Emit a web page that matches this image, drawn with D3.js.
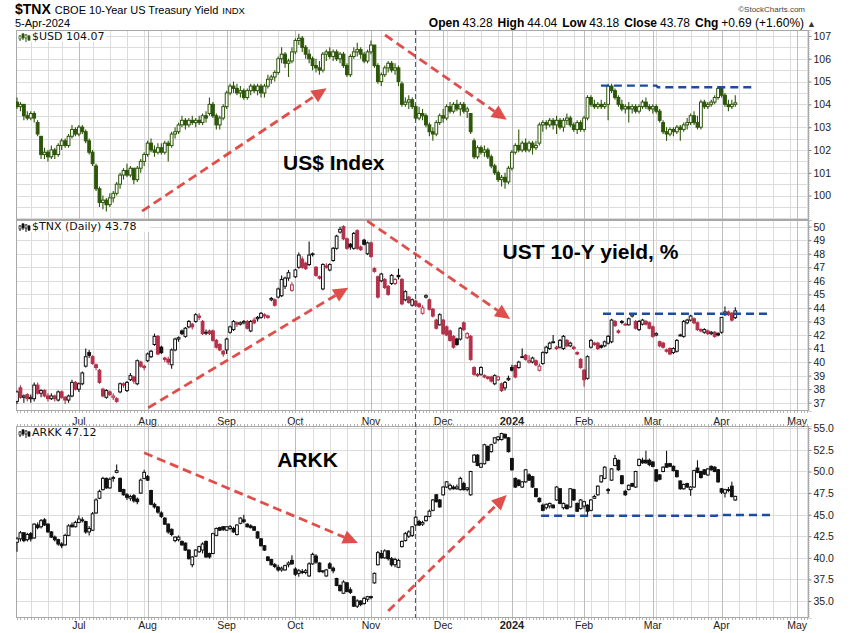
<!DOCTYPE html>
<html><head><meta charset="utf-8">
<script src="https://cdn.jsdelivr.net/npm/d3@7"></script>
<style>body{margin:0;background:#fff}svg{display:block}</style>
</head><body>
<script>
// ---------------- DATA ----------------
const startDate = "2023-06-06";
const holidays = ["2023-06-19","2023-07-04","2023-09-04","2023-11-23","2023-12-25","2024-01-01","2024-01-15","2024-02-19","2024-03-29"];
const monthNames = ["Jan","Feb","Mar","Apr","May","Jun","Jul","Aug","Sep","Oct","Nov","Dec"];

const usdTicks = [100,101,102,103,104,105,106,107];
const tnxTicks = [37,38,39,40,41,42,43,44,45,46,47,48,49,50];
const arkkTicks = [35.0,37.5,40.0,42.5,45.0,47.5,50.0,52.5,55.0];

const headerStats = [["Open","43.28"],["High","44.04"],["Low","43.18"],["Close","43.78"],["Chg","+0.69 (+1.60%)"]];

// [open, high, low, close] per trading day
const usdOHLC = [
[104.1,104.3,103.8,103.9],[103.9,104.1,103.7,104.0],[104.0,104.0,103.3,103.5],[103.5,103.7,103.3,103.4],[103.4,103.7,103.3,103.6],
[103.6,103.7,103.2,103.4],[103.2,103.3,102.6,102.7],[102.6,102.6,101.6,101.8],[101.8,102.1,101.6,101.9],[101.9,102.0,101.5,101.7],
[101.7,102.2,101.6,102.0],[102.0,102.1,101.6,101.8],[101.8,102.3,101.7,102.2],[102.2,102.5,102.0,102.4],[102.4,102.5,102.1,102.2],
[102.2,102.7,102.1,102.6],[102.6,103.1,102.5,102.9],[102.9,103.0,102.6,102.7],[102.7,103.1,102.6,103.0],[103.0,103.1,102.7,102.8],
[102.8,102.9,102.3,102.4],[102.4,102.5,101.8,101.9],[101.9,102.0,101.3,101.4],[101.3,101.4,100.2,100.3],[100.3,100.4,99.5,99.7],
[99.7,100.0,99.4,99.8],[99.8,99.9,99.3,99.6],[99.6,100.1,99.5,99.9],[99.9,100.2,99.7,100.1],[100.1,100.6,100.0,100.5],
[100.5,101.0,100.3,100.9],[100.9,101.2,100.7,101.1],[101.1,101.4,100.8,100.9],[100.9,101.3,100.8,101.2],[101.2,101.2,100.5,100.7],
[100.7,101.3,100.6,101.2],[101.2,101.6,101.0,101.5],[101.5,101.9,101.3,101.8],[101.8,102.4,101.7,102.3],[102.3,102.5,101.9,102.0],
[102.0,102.2,101.7,101.9],[101.9,102.3,101.8,102.1],[102.1,102.3,101.8,101.9],[101.9,102.4,101.8,102.3],[102.3,102.4,101.5,102.2],
[102.2,102.8,102.1,102.7],[102.7,103.0,102.5,102.8],[102.8,103.2,102.7,103.1],[103.1,103.5,103.0,103.3],[103.3,103.4,102.9,103.1],
[103.1,103.4,103.0,103.3],[103.3,103.5,103.1,103.2],[103.2,103.4,103.0,103.3],[103.3,103.5,103.1,103.2],[103.2,103.6,103.1,103.5],
[103.5,103.7,103.2,103.4],[103.6,104.3,103.5,104.0],[104.0,104.1,103.4,103.5],[103.5,103.6,102.9,103.1],[103.1,103.5,102.9,103.4],
[103.4,104.0,103.3,103.9],[103.9,104.6,103.8,104.5],[104.5,104.9,104.4,104.8],[104.8,105.0,104.5,104.7],[104.7,104.9,104.4,104.5],
[104.5,104.8,104.3,104.6],[104.6,104.7,104.2,104.3],[104.3,104.7,104.2,104.6],[104.6,104.9,104.4,104.8],[104.8,104.9,104.5,104.6],
[104.6,104.9,104.4,104.8],[104.8,104.9,104.3,104.5],[104.5,104.9,104.3,104.8],[104.8,105.3,104.7,105.1],[105.1,105.3,104.9,105.2],
[105.2,105.5,105.0,105.4],[105.4,106.1,105.3,106.0],[106.0,106.5,105.8,106.2],[106.2,106.3,105.6,105.8],[105.8,106.0,105.2,105.9],
[105.9,106.5,105.8,106.3],[106.3,106.9,106.2,106.8],[106.8,107.1,106.6,106.9],[106.9,107.0,106.3,106.5],[106.5,106.6,106.0,106.2],
[106.2,106.4,105.8,106.0],[106.0,106.1,105.5,105.7],[105.7,106.0,105.4,105.6],[105.6,105.9,105.3,105.5],[105.5,106.3,105.4,106.2],
[106.2,106.4,105.9,106.3],[106.3,106.5,106.0,106.1],[106.1,106.4,105.9,106.3],[106.3,106.4,105.9,106.0],[106.0,106.3,105.8,106.2],
[106.2,106.3,105.6,105.7],[105.7,105.8,105.2,105.3],[105.3,106.2,105.2,106.1],[106.1,106.5,106.0,106.3],[106.3,106.7,106.1,106.4],
[106.4,106.5,106.0,106.2],[106.2,106.3,105.8,105.9],[105.9,106.4,105.8,106.3],[106.3,106.8,106.2,106.6],[106.6,106.6,105.6,105.7],
[105.7,105.8,104.9,105.0],[105.0,105.4,104.8,105.3],[105.3,105.7,105.2,105.6],[105.6,105.9,105.4,105.8],[105.8,105.9,105.4,105.5],
[105.5,105.8,105.3,105.6],[105.6,105.7,104.8,105.0],[104.9,105.0,103.9,104.0],[104.0,104.3,103.9,104.1],[104.1,104.4,103.8,104.2],
[104.2,104.3,103.8,103.9],[103.9,104.0,103.3,103.4],[103.4,103.9,103.3,103.6],[103.6,103.8,103.3,103.5],[103.5,103.6,103.0,103.1],
[103.1,103.2,102.6,102.8],[102.8,103.0,102.4,102.7],[102.7,103.3,102.6,103.2],[103.2,103.6,103.1,103.5],[103.5,103.8,103.2,103.4],
[103.4,104.0,103.3,103.9],[103.9,104.1,103.6,103.7],[103.7,104.1,103.6,104.0],[104.0,104.2,103.7,103.8],[103.8,104.1,103.5,104.0],
[104.0,104.1,103.6,103.7],[103.7,103.9,103.4,103.8],[103.6,103.6,102.7,102.8],[102.4,102.5,101.6,101.7],[101.7,102.2,101.6,102.1],
[102.1,102.2,101.8,101.9],[101.9,102.2,101.7,102.0],[102.0,102.1,101.6,101.7],[101.7,101.8,101.2,101.3],[101.3,101.4,100.9,101.0],
[101.0,101.1,100.6,100.7],[100.7,100.9,100.4,100.8],[100.8,101.0,100.3,100.6],[100.6,101.3,100.5,101.2],[101.2,102.0,101.1,101.9],
[101.9,102.3,101.8,102.2],[102.2,102.9,101.9,102.0],[102.0,102.4,101.9,102.3],[102.3,102.5,101.9,102.0],[102.0,102.4,101.9,102.3],
[102.3,102.4,101.8,102.1],[102.1,102.4,102.0,102.2],[102.3,103.2,102.2,103.1],[103.1,103.3,102.8,103.2],[103.2,103.3,102.9,103.1],
[103.1,103.4,103.0,103.3],[103.3,103.4,102.9,103.1],[103.1,103.5,102.7,103.3],[103.3,103.4,102.9,103.0],[103.0,103.4,102.8,103.3],
[103.3,103.6,103.1,103.4],[103.4,103.5,103.0,103.1],[103.1,103.2,102.8,102.9],[102.9,103.3,102.7,103.2],[103.2,103.3,102.8,102.9],
[102.9,103.5,102.8,103.4],[103.4,104.4,103.3,104.3],[104.3,104.4,103.9,104.0],[104.0,104.2,103.8,103.9],[103.9,104.1,103.8,104.0],
[104.0,104.2,103.8,103.9],[103.9,104.1,103.8,104.0],[104.0,104.9,103.3,104.8],[104.8,104.9,104.5,104.6],[104.6,104.7,104.2,104.3],
[104.3,104.4,103.9,104.0],[104.0,104.2,103.7,103.8],[103.8,104.0,103.6,103.9],[103.9,104.1,103.2,103.8],[103.8,104.0,103.6,103.9],
[103.9,104.0,103.6,103.7],[103.7,104.0,103.6,103.9],[103.9,104.2,103.8,104.1],[104.1,104.3,103.8,103.9],[103.9,104.0,103.7,103.8],
[103.8,104.0,103.6,103.9],[103.9,104.0,103.6,103.7],[103.7,103.8,103.2,103.3],[103.2,103.3,102.7,102.8],[102.8,103.0,102.4,102.7],
[102.7,103.0,102.6,102.9],[102.9,103.0,102.6,102.8],[102.8,103.1,102.7,103.0],[103.0,103.1,102.4,102.9],[102.9,103.2,102.8,103.1],
[103.1,103.4,102.9,103.2],[103.2,103.6,103.1,103.5],[103.5,103.7,103.1,103.2],[103.2,103.5,102.9,103.0],[103.0,104.2,102.9,104.1],
[104.1,104.2,103.8,103.9],[103.9,104.1,103.8,104.0],[104.0,104.2,103.9,104.1],[104.1,104.4,104.0,104.3],[104.3,104.8,104.2,104.7],
[104.7,104.8,104.3,104.4],[104.4,104.5,103.9,104.0],[104.0,104.2,103.7,103.9],[103.9,104.2,103.8,104.0],[104.0,104.4,103.9,104.07]
];

const tnxOHLC = [
[37.1,37.9,36.9,37.8],[38.1,38.3,37.3,37.4],[37.4,37.6,37.0,37.5],[37.6,37.7,37.1,37.3],[37.3,37.6,37.0,37.4],
[37.3,38.5,37.1,38.3],[38.3,38.5,37.6,37.7],[37.7,38.0,37.4,37.9],[37.9,38.0,37.4,37.5],[37.5,37.7,37.1,37.3],
[37.3,37.7,37.2,37.5],[37.5,37.6,37.1,37.3],[37.2,37.9,37.1,37.8],[37.8,37.9,37.3,37.4],[37.4,37.5,36.9,37.2],
[37.2,37.6,37.0,37.5],[37.5,38.7,37.4,38.5],[38.5,38.6,37.9,38.0],[38.0,38.5,37.8,38.4],[38.4,39.3,38.3,39.2],
[39.7,41.0,39.6,40.4],[40.7,40.9,40.3,40.5],[40.4,40.5,39.8,39.9],[39.8,39.9,39.4,39.6],[39.4,39.5,38.4,38.5],
[38.0,38.1,37.4,37.5],[37.4,38.0,37.3,37.9],[37.8,37.9,37.5,37.6],[37.4,37.7,37.2,37.5],[37.3,37.4,37.0,37.1],
[37.8,38.5,37.7,38.4],[38.4,38.5,38.1,38.3],[37.9,38.6,37.8,38.5],[38.7,39.2,38.6,39.0],[38.9,39.0,38.4,38.6],
[38.4,40.2,38.3,40.1],[40.0,40.1,39.6,39.7],[39.7,39.8,39.4,39.6],[40.1,40.7,40.0,40.6],[40.4,40.9,40.3,40.8],
[41.3,42.1,41.2,41.9],[41.9,42.0,40.5,40.6],[41.1,41.2,40.6,40.7],[40.3,40.4,40.0,40.2],[40.2,40.4,39.8,40.0],
[39.8,41.0,39.5,40.9],[40.9,41.8,40.8,41.7],[41.7,41.9,41.5,41.8],[42.3,42.4,42.0,42.1],[41.9,42.6,41.8,42.5],
[42.6,43.1,42.5,43.0],[42.8,42.9,42.4,42.6],[43.0,43.6,42.9,43.5],[43.4,43.6,43.1,43.3],[43.0,43.1,42.0,42.1],
[42.2,42.4,42.0,42.2],[42.3,42.4,42.0,42.1],[42.3,42.4,41.5,41.6],[41.6,41.7,41.0,41.1],[41.3,41.4,40.8,40.9],
[40.8,40.9,40.4,40.6],[40.9,41.8,40.6,41.7],[42.2,42.7,42.1,42.6],[42.4,43.1,42.3,43.0],[42.9,43.0,42.6,42.8],
[42.8,43.0,42.7,42.9],[42.9,43.1,42.8,43.0],[43.0,43.1,42.4,42.5],[42.3,43.1,42.2,43.0],[43.1,43.3,42.8,42.9],
[43.2,43.4,43.0,43.3],[43.3,43.7,43.2,43.6],[43.5,43.6,43.2,43.4],[43.4,43.5,43.2,43.3],[44.6,44.8,44.5,44.7],
[44.6,44.7,44.1,44.2],[44.8,45.5,44.7,45.4],[44.9,46.4,44.8,46.1],[45.6,46.3,45.4,46.2],[46.2,46.8,46.0,46.6],
[45.3,45.9,45.2,45.7],[46.3,46.9,46.2,46.8],[47.0,48.1,46.9,47.9],[47.6,47.8,46.9,47.0],[47.3,47.4,46.8,46.9],
[47.2,48.9,47.1,47.9],[48.0,48.1,47.8,48.0],[47.0,47.1,46.3,46.4],[46.3,46.4,46.1,46.2],[45.4,47.3,45.3,47.2],
[47.1,47.3,46.9,47.0],[46.8,47.3,46.7,47.2],[47.5,48.5,47.4,48.4],[48.4,49.4,48.3,49.3],[49.6,50.0,49.5,49.8],
[50.0,50.1,49.0,49.1],[49.1,49.2,48.3,48.4],[48.7,48.8,48.3,48.5],[48.4,49.6,48.3,49.5],[49.7,49.8,48.3,48.4],
[48.5,48.6,48.2,48.3],[49.0,49.1,48.6,48.7],[48.0,48.9,47.9,48.8],[48.8,48.9,47.7,47.8],[46.9,47.0,46.6,46.7],
[46.3,46.4,44.7,44.8],[46.0,46.6,45.9,46.5],[46.1,46.2,45.4,45.5],[45.6,45.7,44.9,45.0],[45.8,46.5,45.7,46.4],
[45.8,46.2,45.7,46.1],[46.4,46.9,46.1,46.3],[46.1,46.2,44.2,44.3],[44.6,45.3,44.5,45.2],[44.8,44.9,44.3,44.4],
[44.2,44.7,44.1,44.6],[44.5,44.6,44.1,44.2],[44.3,44.4,44.0,44.1],[43.6,44.2,43.5,44.0],[44.8,45.0,44.7,44.9],
[44.6,44.7,43.8,43.9],[43.9,44.0,43.3,43.4],[43.1,43.2,42.4,42.5],[42.75,43.6,42.7,43.5],[43.1,43.2,42.0,42.1],
[42.6,42.7,41.9,42.0],[42.3,42.4,41.5,41.6],[41.9,42.0,41.0,41.1],[41.7,41.8,41.2,41.3],[41.7,42.6,41.6,42.5],
[42.9,43.0,42.3,42.4],[41.8,42.2,41.7,42.1],[41.9,42.0,40.1,40.2],[39.6,39.7,39.0,39.1],[39.1,39.2,38.9,39.0],
[39.1,39.7,39.0,39.6],[39.0,39.1,38.8,38.9],[38.9,39.0,38.7,38.8],[38.9,39.0,38.5,38.6],[38.4,39.1,38.3,39.0],
[38.7,39.0,38.6,38.9],[38.4,38.5,37.8,37.9],[38.1,38.6,37.9,38.5],[38.7,39.0,38.6,38.8],[39.6,39.8,39.3,39.4],
[39.75,39.8,38.8,38.9],[39.6,40.1,39.5,40.0],[40.4,41.0,40.3,40.4],[40.5,40.6,40.1,40.2],[40.0,40.5,39.9,40.1],
[40.0,40.4,39.9,40.3],[40.1,40.2,39.7,39.8],[39.4,39.9,39.3,39.7],[39.9,40.8,39.8,40.7],[40.7,41.2,40.6,41.1],
[41.0,41.5,40.9,41.4],[41.5,42.0,41.4,41.5],[41.1,41.2,40.9,41.0],[41.1,41.7,41.0,41.6],[41.0,42.0,40.9,41.9],
[41.6,41.7,41.1,41.2],[41.2,41.5,41.1,41.4],[41.1,41.2,40.9,41.0],[40.7,40.8,40.5,40.6],[40.2,40.3,39.5,39.6],
[39.4,39.5,38.2,38.7],[38.8,40.5,38.7,40.4],[41.1,41.7,41.0,41.6],[41.4,41.5,41.2,41.3],[41.4,41.5,40.9,41.0],
[41.2,41.3,41.0,41.1],[41.2,41.6,41.1,41.5],[41.4,42.0,41.3,41.9],[41.5,43.2,41.4,43.1],[43.0,43.1,42.6,42.7],
[42.3,42.4,42.1,42.2],[43.0,43.1,42.8,42.95],[42.8,42.9,42.7,42.8],[42.75,43.3,42.7,43.2],[43.4,43.6,43.3,43.5],
[43.0,43.1,42.4,42.5],[42.4,43.1,42.3,43.0],[42.8,43.2,42.7,43.1],[43.0,43.1,42.7,42.8],[42.9,43.0,42.4,42.5],
[42.6,42.7,41.8,41.9],[42.0,42.2,41.9,42.1],[41.5,41.6,41.1,41.2],[41.4,41.5,41.0,41.1],[40.9,41.0,40.7,40.8],
[41.0,41.1,40.5,40.6],[40.7,41.1,40.6,41.0],[40.8,41.7,40.7,41.6],[42.0,42.1,41.9,42.0],[41.9,43.1,41.8,43.0],
[42.9,43.2,42.8,43.1],[43.1,43.5,43.0,43.4],[43.2,43.3,42.8,42.9],[42.9,43.0,42.3,42.4],[42.4,42.5,42.2,42.3],
[42.2,42.5,42.1,42.4],[42.3,42.4,42.0,42.1],[42.1,42.3,42.0,42.2],[42.2,42.3,41.8,41.9],[42.1,42.2,41.9,42.0],
[42.2,43.3,42.1,43.3],[43.5,44.1,43.4,43.7],[43.7,43.8,43.4,43.5],[43.6,43.7,43.0,43.1],[43.28,44.04,43.18,43.78]
];

const arkkOHLC = [
[41.8,42.4,40.7,42.2],[42.2,43.1,41.9,42.9],[42.9,43.0,41.8,42.0],[42.1,42.9,41.9,42.7],[42.8,43.0,41.9,42.2],
[42.3,44.0,42.2,43.9],[43.8,44.1,43.3,43.5],[43.6,44.5,43.4,44.3],[44.4,44.6,43.7,43.8],[43.9,44.0,42.9,43.0],
[43.0,43.1,42.3,42.4],[42.4,42.6,41.9,42.1],[42.1,42.2,41.4,41.6],[41.6,41.8,41.1,41.4],[41.5,42.8,41.4,42.6],
[42.6,43.9,42.5,43.7],[43.8,44.1,43.5,43.6],[43.6,44.3,43.5,44.1],[44.1,44.9,44.0,44.5],[44.4,44.7,44.1,44.3],
[44.2,44.3,42.8,43.0],[43.0,43.7,42.6,43.4],[43.2,45.3,43.1,45.1],[45.2,46.9,45.1,46.7],[46.9,47.9,46.8,47.7],
[47.9,49.4,47.8,49.2],[49.2,49.3,48.0,48.1],[48.1,49.3,48.0,49.1],[49.2,49.5,48.8,49.3],[49.9,50.8,49.8,50.1],
[49.2,49.3,47.6,47.7],[47.9,48.0,47.2,47.3],[47.3,47.5,46.7,47.0],[46.9,47.3,46.6,47.1],[47.2,47.4,46.4,46.6],
[46.8,47.0,46.2,46.5],[47.5,49.2,47.4,49.0],[49.2,50.2,49.1,49.9],[49.4,49.6,48.9,49.0],[47.8,47.9,46.1,46.2],
[46.2,46.4,45.7,45.9],[45.9,46.0,45.1,45.3],[45.2,45.4,44.6,44.8],[44.6,44.7,43.8,43.9],[43.9,44.0,42.8,43.0],
[43.3,43.4,42.5,42.7],[42.0,42.5,41.8,42.4],[42.1,42.6,41.9,42.4],[41.9,42.0,41.4,41.5],[41.7,41.8,40.8,40.9],
[40.9,41.0,39.8,39.9],[39.2,40.2,38.9,40.1],[40.2,41.0,40.1,40.9],[40.7,41.4,40.6,41.3],[40.9,41.8,40.5,41.6],
[41.9,42.0,40.0,40.1],[40.5,40.6,39.9,40.1],[40.5,42.9,40.4,42.8],[42.6,43.5,42.5,43.4],[43.5,43.6,43.1,43.2],
[43.6,43.7,43.1,43.3],[43.2,43.7,43.1,43.6],[43.4,43.8,43.2,43.6],[43.4,43.6,42.9,43.0],[42.7,43.9,42.6,43.8],
[44.0,44.7,43.9,44.6],[44.4,45.0,44.0,44.2],[43.9,44.0,43.5,43.6],[43.7,43.9,43.4,43.5],[43.6,43.7,43.1,43.2],
[43.0,43.1,42.2,42.3],[42.2,42.3,41.3,41.4],[41.4,41.5,40.8,40.9],[40.1,40.2,39.6,39.7],[39.8,39.9,39.1,39.2],
[39.2,39.4,38.8,39.0],[38.9,39.2,38.4,38.6],[38.6,39.0,38.4,38.8],[38.6,39.2,38.5,39.1],[39.2,39.6,38.9,39.4],
[39.7,40.3,39.2,39.3],[38.7,38.9,37.9,38.1],[38.2,38.7,37.8,38.5],[38.4,38.7,38.1,38.3],[38.3,38.7,38.1,38.5],
[37.9,39.5,37.8,39.3],[39.3,40.6,39.2,40.4],[40.2,40.4,39.3,39.5],[39.4,39.5,38.3,38.4],[38.4,38.6,38.2,38.5],
[37.9,38.7,37.8,38.6],[39.3,39.5,38.7,38.8],[38.8,39.0,38.2,38.5],[37.6,37.7,36.7,36.8],[36.8,36.9,36.1,36.2],
[35.9,37.4,35.8,37.2],[37.1,37.2,36.0,36.1],[36.3,36.6,35.8,36.0],[35.5,35.6,34.3,34.4],[34.4,35.2,34.2,35.0],
[35.0,35.1,34.4,34.6],[34.7,35.5,34.6,35.3],[35.2,35.6,34.9,35.5],[35.5,35.6,35.2,35.4],[37.1,38.3,37.0,38.2],
[39.2,40.8,39.1,40.6],[40.5,40.9,39.9,40.0],[40.0,41.0,39.9,40.8],[40.8,40.9,39.7,39.9],[39.9,40.1,39.0,39.2],
[39.2,40.0,38.9,39.8],[38.9,39.9,38.8,39.7],[41.3,42.0,41.2,41.9],[42.0,43.0,41.9,42.8],[42.5,43.2,42.3,43.0],
[42.6,43.7,42.4,43.6],[43.8,44.9,43.7,44.7],[44.2,44.4,43.7,43.8],[43.9,44.3,43.7,44.1],[44.3,44.9,44.2,44.8],
[44.8,45.6,44.7,45.4],[45.5,46.8,45.4,46.7],[47.3,47.4,46.4,46.5],[46.7,46.8,45.8,45.9],[47.3,48.3,47.2,48.2],
[48.2,48.9,48.1,48.8],[48.0,48.6,47.8,48.4],[48.2,48.4,47.9,48.0],[48.0,48.5,47.9,48.2],[47.9,49.4,47.8,49.2],
[48.6,48.8,47.8,47.9],[47.9,48.2,47.7,48.1],[47.3,50.1,47.2,50.0],[51.1,52.0,51.0,51.9],[51.9,52.0,50.6,50.7],
[50.5,51.0,50.4,50.9],[50.9,53.2,50.8,53.1],[52.9,53.0,51.2,51.3],[52.3,53.2,52.2,53.1],[53.3,54.0,53.2,53.9],
[53.7,54.1,53.5,54.0],[53.7,54.5,53.6,54.4],[54.3,54.4,53.8,53.9],[53.9,54.0,52.2,52.3],[51.5,51.6,50.1,50.2],
[49.2,49.3,48.1,48.2],[49.0,49.1,48.3,48.4],[48.2,48.9,48.1,48.8],[48.8,50.3,48.7,50.2],[49.6,49.8,48.9,49.0],
[49.4,49.5,48.1,48.2],[48.0,48.1,47.0,47.1],[46.9,47.0,46.4,46.5],[46.1,46.3,45.4,45.5],[45.8,46.3,45.6,46.2],
[46.0,46.4,45.7,46.3],[46.1,46.2,45.7,45.8],[46.7,48.3,46.6,48.2],[48.0,48.1,46.2,46.3],[45.8,46.4,45.6,46.3],
[46.1,46.2,45.6,45.7],[45.9,48.1,45.8,48.0],[47.9,48.0,46.6,46.7],[46.3,46.4,45.3,45.4],[45.7,46.8,45.6,46.7],
[46.0,46.6,45.7,46.5],[46.1,46.2,44.8,45.4],[45.5,46.8,45.4,46.7],[46.9,47.3,46.8,47.1],[47.3,48.4,47.2,48.3],
[48.8,49.6,48.7,49.5],[49.2,50.6,49.1,50.5],[47.9,48.1,47.4,47.9],[49.0,50.4,48.9,50.3],[50.7,51.9,50.6,51.5],
[51.3,51.4,50.1,50.2],[49.5,49.6,48.5,48.6],[47.7,47.9,47.2,47.3],[47.9,48.5,47.8,48.4],[48.6,48.7,48.2,48.3],
[48.2,50.1,48.1,50.0],[50.7,51.5,50.6,51.4],[51.3,51.6,50.9,51.0],[51.3,52.4,50.9,51.0],[51.3,51.5,50.6,50.8],
[51.1,51.2,50.5,50.6],[50.2,50.3,48.8,48.9],[49.6,49.7,49.0,49.1],[50.0,50.6,49.9,50.5],[50.9,52.4,50.4,50.5],
[50.9,51.0,50.5,50.6],[50.6,50.7,50.0,50.1],[50.1,50.2,49.3,49.4],[48.9,49.0,47.9,48.0],[48.0,48.6,47.9,48.5],
[48.6,48.7,48.1,48.2],[47.9,48.3,47.2,48.2],[48.2,50.2,48.1,50.1],[50.4,51.3,49.8,49.9],[50.0,50.1,49.2,49.3],
[50.2,50.3,49.6,49.7],[49.6,50.4,49.5,50.3],[50.6,50.7,50.1,50.2],[50.5,50.6,49.9,50.0],[50.2,50.3,48.7,48.8],
[48.0,48.1,47.4,47.6],[47.5,48.0,47.0,47.9],[47.9,48.2,47.6,47.8],[48.3,48.8,47.0,47.1],[46.7,47.2,46.6,47.12]
];

// annotations in data coordinates: [index, value]
const trendArrows = {
  usd:  [[[36.4, 99.32],[90.1,104.71]], [[107.1,107.04],[142.5,103.32]]],
  tnx:  [[[38.2, 36.63],[96.4, 45.49]], [[101.9, 50.42],[143.5, 43.18]]],
  arkk: [[[37.0, 52.17],[99.2, 41.72]], [[108.0, 33.84],[142.5, 47.28]]]
};
const levelLines = {
  usd:  [[169.9,104.82],[186,104.82],[186.5,104.75],[214.7,104.75]],
  tnx:  [[170.5,43.57],[218.5,43.57]],
  arkk: [[152.5,44.88],[203.5,44.88],[204,44.96],[219.1,44.96]]
};
const markerIndex = 115.8;
const bigLabels = {
  usd:  {text:"US$ Index", at:[77.4, 101.12]},
  tnx:  {text:"UST 10-Y yield, %", at:[141.3, 47.61]},
  arkk: {text:"ARKK", at:[75.7, 50.52]}
};

// ---------------- LAYOUT ----------------
const W = 850, H = 633;
const X0 = 16, X1 = 809;
const svg = d3.select("body").append("svg").attr("width", W).attr("height", H)
  .style("font-family", "'Liberation Sans', Arial, sans-serif");
svg.append("rect").attr("width", W).attr("height", H).attr("fill", "#fff");

// trading-day calendar
const hol = new Set(holidays);
const days = [];
{
  const p = startDate.split("-").map(Number);
  const d = new Date(Date.UTC(p[0], p[1]-1, p[2]));
  while (days.length < 232) {
    const wd = d.getUTCDay(), iso = d.toISOString().slice(0,10);
    if (wd !== 0 && wd !== 6 && !hol.has(iso)) days.push(new Date(d));
    d.setUTCDate(d.getUTCDate() + 1);
  }
}
const monthStarts = [], weekStarts = [];
days.forEach((d, i) => {
  if (i === 0) return;
  const pd = days[i-1];
  if (d.getUTCMonth() !== pd.getUTCMonth()) monthStarts.push(i);
  else if (d.getUTCDay() <= pd.getUTCDay()) weekStarts.push(i);
});

const x = d3.scaleLinear().domain([-0.29, 230.45]).range([X0, X1]);

const GREEN = "#2d560a", RED = "#b3314a", BLACK = "#111";
const panels = [
  {key:"usd", top:30, bottom:220, dom:[98.93,107.26], ticks:usdTicks, step:0.5, data:usdOHLC, fmt:d3.format("d"),
   legend:"$USD 104.07", mode:"green"},
  {key:"tnx", top:220, bottom:411, dom:[36.39,50.49], ticks:tnxTicks, step:1, data:tnxOHLC, fmt:d3.format("d"),
   legend:"$TNX (Daily) 43.78", mode:"redblack"},
  {key:"arkk", top:426, bottom:618, dom:[33.03,55.27], ticks:arkkTicks, step:2.5, data:arkkOHLC, fmt:d3.format(".1f"),
   legend:"ARKK 47.12", mode:"black"}
];

const defs = svg.append("defs");

panels.forEach(P => {
  const y = d3.scaleLinear().domain(P.dom).range([P.bottom, P.top]);
  P.y = y;
  const g = svg.append("g");
  defs.append("clipPath").attr("id", "clip-" + P.key)
    .append("rect").attr("x", X0).attr("y", P.top).attr("width", X1 - X0).attr("height", P.bottom - P.top);

  const hv = d3.range(Math.ceil(P.dom[0] / P.step) * P.step, P.dom[1], P.step);
  g.selectAll(".hg").data(hv).join("line")
    .attr("x1", X0).attr("x2", X1)
    .attr("y1", d => Math.round(y(d)) + 0.5).attr("y2", d => Math.round(y(d)) + 0.5)
    .attr("stroke", "#dcdcdc").attr("stroke-width", 1);
  g.selectAll(".wg").data(weekStarts.filter(i => x(i) < X1)).join("line")
    .attr("x1", i => Math.round(x(i)) + 0.5).attr("x2", i => Math.round(x(i)) + 0.5)
    .attr("y1", P.top).attr("y2", P.bottom)
    .attr("stroke", "#dcdcdc").attr("stroke-width", 1);
  g.selectAll(".mg").data(monthStarts.filter(i => x(i) < X1)).join("line")
    .attr("x1", i => Math.round(x(i)) + 0.5).attr("x2", i => Math.round(x(i)) + 0.5)
    .attr("y1", P.top).attr("y2", P.bottom)
    .attr("stroke", "#bdbdbd").attr("stroke-width", 1);

  g.append("rect").attr("x", X0 + 0.5).attr("y", P.top + 0.5)
    .attr("width", X1 - X0 - 1).attr("height", P.bottom - P.top - 1)
    .attr("fill", "none").attr("stroke", "#a8a8a8").attr("stroke-width", 1);

  const ax = svg.append("g").attr("transform", `translate(${X1 - 0.5},0)`)
    .call(d3.axisRight(y).tickValues(P.ticks).tickFormat(P.fmt).tickSize(3).tickPadding(2));
  ax.select(".domain").attr("stroke", "#a8a8a8").attr("stroke-dasharray", "1,1");
  ax.selectAll(".tick line").attr("stroke", "#888");
  ax.selectAll(".tick text").attr("fill", "#222").style("font-size", "10.5px")
    .style("font-family", "'Liberation Sans', Arial, sans-serif");
});

// x axis labels
[424.5, 628.5].forEach(ly => {
  svg.append("g").selectAll("text").data(monthStarts.filter(i => x(i) < X1 + 2)).join("text")
    .attr("x", i => x(i)).attr("y", ly).attr("text-anchor", "middle")
    .attr("fill", "#222")
    .style("font-size", i => days[i].getUTCMonth() === 0 ? "11px" : "10.5px")
    .style("font-weight", i => days[i].getUTCMonth() === 0 ? "bold" : "normal")
    .text(i => days[i].getUTCMonth() === 0 ? String(days[i].getUTCFullYear()) : monthNames[days[i].getUTCMonth()]);
});
[[411, 1], [426, -1], [618, 1]].forEach(([by, dir]) => {
  svg.append("g").selectAll("line").data(d3.range(0, 231)).join("line")
    .attr("x1", i => Math.round(x(i)) + 0.5).attr("x2", i => Math.round(x(i)) + 0.5)
    .attr("y1", by).attr("y2", by + 2 * dir)
    .attr("stroke", "#b5b5b5").attr("stroke-width", 1);
});

// blue vertical marker
svg.append("line").attr("x1", Math.round(x(markerIndex)) + 0.5).attr("x2", Math.round(x(markerIndex)) + 0.5)
  .attr("y1", 30).attr("y2", 618)
  .attr("stroke", "#1f5fd6").attr("stroke-width", 1.1).attr("stroke-dasharray", "5,3");

// candles
panels.forEach(P => {
  const y = P.y;
  const g = svg.append("g").attr("clip-path", `url(#clip-${P.key})`);
  const bars = g.selectAll("g.c").data(P.data).join("g");
  const colorOf = (d, i) => {
    if (P.mode === "green") return GREEN;
    if (P.mode === "black") return BLACK;
    if (i === 0) return BLACK;
    return d[3] < P.data[i-1][3] ? RED : BLACK;
  };
  bars.append("line")
    .attr("x1", (d, i) => x(i)).attr("x2", (d, i) => x(i))
    .attr("y1", d => y(d[1])).attr("y2", d => y(d[2]))
    .attr("stroke", colorOf).attr("stroke-width", 1.1);
  bars.append("rect")
    .attr("x", (d, i) => x(i) - 1.4).attr("width", 2.8)
    .attr("y", d => y(Math.max(d[0], d[3])))
    .attr("height", d => Math.max(0.9, Math.abs(y(d[0]) - y(d[3]))))
    .attr("fill", (d, i) => d[3] < d[0] ? colorOf(d, i) : "#fff")
    .attr("stroke", colorOf).attr("stroke-width", 1);
});

// annotations
function arrow(g, p0, p1, color) {
  const dx = p1[0] - p0[0], dy = p1[1] - p0[1];
  const L = Math.hypot(dx, dy), ux = dx / L, uy = dy / L;
  const hl = 15, hw = 7;
  const bx = p1[0] - ux * hl, by = p1[1] - uy * hl;
  g.append("line").attr("x1", p0[0]).attr("y1", p0[1]).attr("x2", bx).attr("y2", by)
    .attr("stroke", color).attr("stroke-width", 2.8).attr("stroke-dasharray", "9,5");
  g.append("path")
    .attr("d", `M${p1[0]},${p1[1]}L${bx - uy * hw},${by + ux * hw}L${bx + uy * hw},${by - ux * hw}Z`)
    .attr("fill", color);
}
panels.forEach(P => {
  const y = P.y;
  const g = svg.append("g");
  trendArrows[P.key].forEach(a => arrow(g, [x(a[0][0]), y(a[0][1])], [x(a[1][0]), y(a[1][1])], "rgba(220,55,50,0.88)"));
  g.append("path")
    .attr("d", d3.line().x(d => x(d[0])).y(d => y(d[1]))(levelLines[P.key]))
    .attr("fill", "none").attr("stroke", "#1c4ca0").attr("stroke-width", 2.4).attr("stroke-dasharray", "8,5");
  const bl = bigLabels[P.key];
  g.append("text").attr("x", x(bl.at[0])).attr("y", y(bl.at[1]))
    .style("font-size", "21px").style("font-weight", "bold").attr("fill", "#000").text(bl.text);

  const lg = svg.append("g");
  const col = P.mode === "green" ? GREEN : BLACK;
  lg.append("rect").attr("x", X0 + 1).attr("y", P.top + 1).attr("width", P.legend.length * 6.3 + 20).attr("height", 11)
    .attr("fill", "#fff").attr("opacity", 0.85);
  [[0, 2, 8, 3, 6], [3, 0, 7, 1, 5], [6, 1, 9, 2, 5], [9, 2, 8, 3, 7]].forEach(([dx, t, b, bt, bb], k) => {
    const cx = X0 + 4 + dx;
    lg.append("line").attr("x1", cx).attr("x2", cx).attr("y1", P.top + 3 + t).attr("y2", P.top + 3 + b)
      .attr("stroke", col).attr("stroke-width", 1);
    lg.append("rect").attr("x", cx - 1).attr("y", P.top + 3 + bt).attr("width", 2).attr("height", bb - bt)
      .attr("fill", k % 2 ? col : "#fff").attr("stroke", col).attr("stroke-width", 0.7);
  });
  lg.append("text").attr("x", X0 + 16).attr("y", P.top + 10)
    .style("font-family", "'DejaVu Sans', sans-serif").style("font-size", "11px").attr("fill", "#111")
    .text(P.legend);
});

// header
const hdr = svg.append("g");
hdr.append("text").attr("x", 15).attr("y", 14)
  .call(t => {
    t.append("tspan").style("font-size", "14px").style("font-weight", "bold").text("$TNX");
    t.append("tspan").attr("dx", 4).style("font-size", "11px").text("CBOE 10-Year US Treasury Yield");
    t.append("tspan").attr("dx", 4).style("font-size", "9.5px").text("INDX");
  });
hdr.append("text").attr("x", 15).attr("y", 26.5).style("font-size", "11px").text("5-Apr-2024");
hdr.append("text").attr("x", 805).attr("y", 12).attr("text-anchor", "end")
  .style("font-size", "8px").attr("fill", "#444").text("\u00A9StockCharts.com");
hdr.append("text").attr("x", 816).attr("y", 26.5).attr("text-anchor", "end").style("font-size", "12px")
  .call(t => {
    headerStats.forEach(([k, v], i) => {
      t.append("tspan").attr("dx", i ? 5 : 0).style("font-weight", "bold").text(k);
      t.append("tspan").attr("dx", 3).text(v);
    });
    t.append("tspan").attr("dx", 3).style("font-size", "9px").attr("fill", "#333").text("\u25B2");
  });
</script>
</body></html>
